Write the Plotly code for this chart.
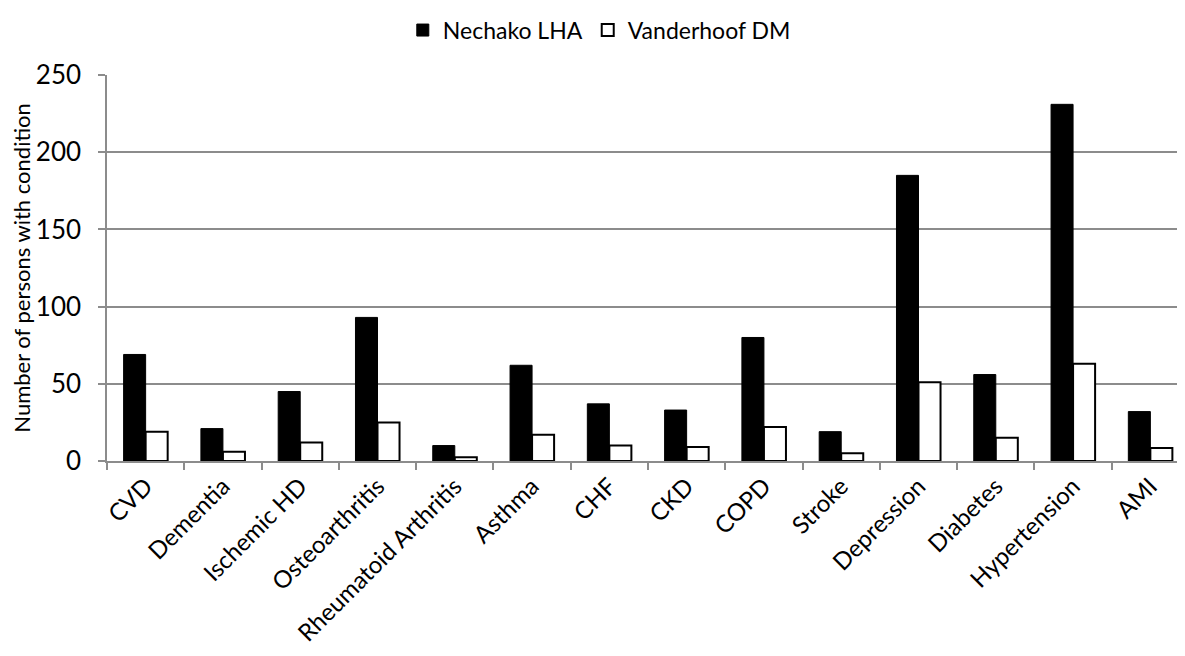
import plotly.graph_objects as go

categories = ["CVD", "Dementia", "Ischemic HD", "Osteoarthritis", "Rheumatoid Arthritis",
              "Asthma", "CHF", "CKD", "COPD", "Stroke", "Depression", "Diabetes",
              "Hypertension", "AMI"]
nechako_lha = [69, 21, 45, 93, 10, 62, 37, 33, 80, 19, 185, 56, 231, 32]
vanderhoof_dm = [19, 6, 12, 25, 2.5, 17, 10, 9, 22, 5, 51, 15, 63, 8.5]
y_ticks = [0, 50, 100, 150, 200, 250]

FONT = "Lato"

fig = go.Figure()
fig.add_trace(go.Bar(x=categories, y=nechako_lha, name="Nechako LHA",
                     marker=dict(color="black", line=dict(color="black", width=1))))
fig.add_trace(go.Bar(x=categories, y=vanderhoof_dm, name="Vanderhoof DM",
                     marker=dict(color="white", line=dict(color="black", width=2))))

fig.update_layout(
    width=1185, height=656,
    paper_bgcolor="white", plot_bgcolor="white",
    margin=dict(l=99, r=4, t=67, b=203, autoexpand=False),
    barmode="group", bargap=0.43, bargroupgap=0,
    font=dict(family=FONT, color="black", size=20),
    legend=dict(orientation="h", x=0.455, xanchor="center", y=1.172, yanchor="top",
                yref="paper", font=dict(size=23, family=FONT), itemwidth=30,
                traceorder="normal"),
    showlegend=True,
)

fig.update_xaxes(
    type="category", range=[-0.5, 13.5],
    tickangle=-45, tickfont=dict(size=24, family=FONT),
    showline=True, linecolor="#8c8c8c", linewidth=1.5,
    ticks="outside", tickson="boundaries", ticklen=7, tickcolor="#8c8c8c", tickwidth=1.5,
    showgrid=False,
)
fig.update_yaxes(
    range=[0, 250], tickvals=y_ticks,
    showgrid=True, gridcolor="#8c8c8c", gridwidth=1.5,
    showline=True, linecolor="#8c8c8c", linewidth=1.5,
    ticks="outside", ticklen=7, tickcolor="#8c8c8c", tickwidth=1.5,
    tickfont=dict(size=26, family=FONT), ticklabelstandoff=12,
    title=dict(text="Number of persons with condition", font=dict(size=22, family=FONT), standoff=10),
    zeroline=False,
)

fig.write_html("out.html")
